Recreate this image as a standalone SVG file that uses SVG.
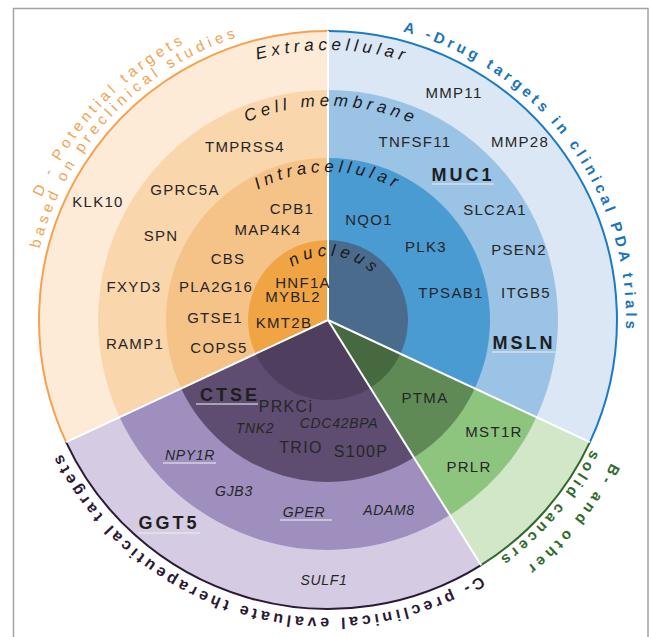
<svg xmlns="http://www.w3.org/2000/svg" xmlns:xlink="http://www.w3.org/1999/xlink" width="650" height="637" viewBox="0 0 650 637">
<style>
text{font-family:"Liberation Sans",Arial,sans-serif}
.g{font-size:15px;fill:#262626;letter-spacing:1.3px;text-anchor:middle}
.g16{font-size:16px}
.gi{font-style:italic;font-size:14px;letter-spacing:0.7px}
.gb{font-weight:bold;font-size:18px;letter-spacing:3px;fill:#1e1e1e}
.ring{font-style:italic;font-size:17px;letter-spacing:4.5px;fill:#1a1a1a}
.ul{stroke:#eeeeee;stroke-opacity:0.7;stroke-width:1.5}
.sep{stroke:#ffffff;stroke-width:2}
.arc{fill:none;stroke-width:2}
.lab{font-size:15px;letter-spacing:4px}
.labb{font-weight:bold;font-size:15px;letter-spacing:3.9px}
</style>
<defs>
<path id="pExt" d="M58,320 A270,270 0 0 1 598,320"/>
<path id="pMem" d="M114,320 A214,214 0 0 1 542,320"/>
<path id="pInt" d="M180,320 A148,148 0 0 1 476,320"/>
<path id="pNuc" d="M264,320 A64,64 0 0 1 392,320"/>
<path id="pD1" d="M112.1,550.7 A316,316 0 0 1 543.9,89.3"/>
<path id="pD2" d="M124.3,536.2 A297,297 0 0 1 531.7,103.8"/>
<path id="pA" d="M150.7,80.4 A298,298 0 0 1 505.3,559.6"/>
<path id="pB1" d="M528.8,74.7 A317,317 0 0 1 127.2,565.3"/>
<path id="pB2" d="M520.9,94.2 A297,297 0 0 1 135.1,545.8"/>
<path id="pC" d="M613.6,405.1 A298,298 0 0 1 42.4,234.9"/>
</defs>
<rect x="13.5" y="8.5" width="634.5" height="700" fill="#ffffff" stroke="#a3a3a3" stroke-width="1.5"/>

<g id="sector-D">
<path d="M328,320 L66.1,442.1 A289,289 0 0 1 328,31 Z" fill="#FDEBD7"/>
<path d="M328,320 L119.6,417.2 A230,230 0 0 1 328,90 Z" fill="#F9D6AC"/>
<path d="M328,320 L181.2,388.5 A162,162 0 0 1 328,158 Z" fill="#F5C388"/>
<path d="M328,320 L255.5,353.8 A80,80 0 0 1 328,240 Z" fill="#F0A443"/>
<path class="arc" d="M66.1,442.1 A289,289 0 0 1 328,31" stroke="#F4A24F"/>
</g>
<g id="sector-A">
<path d="M328,320 L328,31 A289,289 0 0 1 589.9,442.1 Z" fill="#DBE7F5"/>
<path d="M328,320 L328,90 A230,230 0 0 1 536.4,417.2 Z" fill="#9BC3E5"/>
<path d="M328,320 L328,158 A162,162 0 0 1 474.8,388.5 Z" fill="#4A9BD2"/>
<path d="M328,320 L328,240 A80,80 0 0 1 400.5,353.8 Z" fill="#4A6B8C"/>
<path class="arc" d="M328,31 A289,289 0 0 1 589.9,442.1" stroke="#1B7AC4"/>
</g>
<g id="sector-B">
<path d="M328,320 L589.9,442.1 A289,289 0 0 1 481.1,565.1 Z" fill="#D1E7C7"/>
<path d="M328,320 L536.4,417.2 A230,230 0 0 1 449.9,515 Z" fill="#8DC47E"/>
<path d="M328,320 L474.8,388.5 A162,162 0 0 1 413.8,457.4 Z" fill="#5F8A55"/>
<path d="M328,320 L400.5,353.8 A80,80 0 0 1 370.4,387.8 Z" fill="#46693F"/>
<path class="arc" d="M589.9,442.1 A289,289 0 0 1 481.1,565.1" stroke="#2D6A2B"/>
</g>
<g id="sector-C">
<path d="M328,320 L481.1,565.1 A289,289 0 0 1 66.1,442.1 Z" fill="#D5CCE3"/>
<path d="M328,320 L449.9,515 A230,230 0 0 1 119.6,417.2 Z" fill="#9E8FBE"/>
<path d="M328,320 L413.8,457.4 A162,162 0 0 1 181.2,388.5 Z" fill="#5E4D70"/>
<path d="M328,320 L370.4,387.8 A80,80 0 0 1 255.5,353.8 Z" fill="#4F3E5E"/>
<path class="arc" d="M481.1,565.1 A289,289 0 0 1 66.1,442.1" stroke="#2B1A33" stroke-width="2.5"/>
</g>
<g id="separators">
<line class="sep" x1="328" y1="320" x2="66.1" y2="442.1"/>
<line class="sep" x1="328" y1="320" x2="328" y2="31" stroke-width="1.2"/>
<line class="sep" x1="328" y1="320" x2="589.9" y2="442.1"/>
<line class="sep" x1="328" y1="320" x2="481.1" y2="565.1"/>
</g>

<g id="ring-labels">
<text class="ring"><textPath xlink:href="#pExt" href="#pExt" startOffset="50.5%" text-anchor="middle">Extracellular</textPath></text>
<text class="ring"><textPath xlink:href="#pMem" href="#pMem" startOffset="50.5%" text-anchor="middle">Cell membrane</textPath></text>
<text class="ring"><textPath xlink:href="#pInt" href="#pInt" startOffset="50%" text-anchor="middle">Intracellular</textPath></text>
<text class="ring"><textPath xlink:href="#pNuc" href="#pNuc" startOffset="53.5%" text-anchor="middle">nucleus</textPath></text>
</g>

<g id="category-labels">
<text class="lab" fill="#F2A251"><textPath xlink:href="#pD1" href="#pD1" startOffset="50%" text-anchor="middle">D - Potential targets</textPath></text>
<text class="lab" fill="#F2A251" style="letter-spacing:4.3px"><textPath xlink:href="#pD2" href="#pD2" startOffset="50%" text-anchor="middle">based on preclinical studies</textPath></text>
<text class="labb" fill="#1B75BB"><textPath xlink:href="#pA" href="#pA" startOffset="50%" text-anchor="middle">A -Drug targets in clinical PDA trials</textPath></text>
<text class="labb" fill="#2E6B2C" style="letter-spacing:4.2px"><textPath xlink:href="#pB1" href="#pB1" startOffset="50%" text-anchor="middle">B- and other</textPath></text>
<text class="labb" fill="#2E6B2C"><textPath xlink:href="#pB2" href="#pB2" startOffset="50%" text-anchor="middle">solid cancers</textPath></text>
<text class="labb" fill="#2B1833" style="font-size:16px;letter-spacing:3.6px"><textPath xlink:href="#pC" href="#pC" startOffset="50%" text-anchor="middle">C- preclinical evaluate therapeutical targets</textPath></text>
</g>

<g id="targets-D">
<text class="g" x="245" y="152">TMPRSS4</text>
<text class="g" x="98" y="207">KLK10</text>
<text class="g" x="185" y="195">GPRC5A</text>
<text class="g" x="292" y="214">CPB1</text>
<text class="g" x="268" y="235">MAP4K4</text>
<text class="g" x="161" y="241">SPN</text>
<text class="g" x="228" y="264">CBS</text>
<text class="g" x="134" y="292">FXYD3</text>
<text class="g" x="216" y="292">PLA2G16</text>
<text class="g" x="303" y="288">HNF1A</text>
<text class="g" x="293" y="302">MYBL2</text>
<text class="g" x="284" y="328">KMT2B</text>
<text class="g" x="215" y="323">GTSE1</text>
<text class="g" x="219" y="353">COPS5</text>
<text class="g" x="135" y="349">RAMP1</text>
</g>
<g id="targets-A">
<text class="g" x="454" y="98">MMP11</text>
<text class="g" x="415" y="147">TNFSF11</text>
<text class="g" x="520" y="147">MMP28</text>
<text class="g gb" x="463" y="181">MUC1</text>
<line class="ul" x1="432" y1="184" x2="494" y2="184"/>
<text class="g" x="369" y="225">NQO1</text>
<text class="g" x="495" y="215">SLC2A1</text>
<text class="g" x="426" y="252">PLK3</text>
<text class="g" x="519" y="255">PSEN2</text>
<text class="g" x="451" y="298">TPSAB1</text>
<text class="g" x="526" y="298">ITGB5</text>
<text class="g gb" x="524" y="349">MSLN</text>
<line class="ul" x1="492" y1="352" x2="555" y2="352"/>
</g>
<g id="targets-B">
<text class="g" x="425" y="403">PTMA</text>
<text class="g" x="494" y="437">MST1R</text>
<text class="g" x="469" y="472">PRLR</text>
</g>
<g id="targets-C">
<text class="g gb" x="230" y="401">CTSE</text>
<line class="ul" x1="196" y1="404" x2="258" y2="404"/>
<text class="g g16" x="286" y="412">PRKCi</text>
<text class="g gi" x="255" y="433">TNK2</text>
<text class="g gi" x="339" y="428">CDC42BPA</text>
<text class="g g16" x="301" y="453">TRIO</text>
<text class="g g16" x="361" y="457">S100P</text>
<text class="g gi" x="190" y="460">NPY1R</text>
<line class="ul" x1="163" y1="463" x2="216" y2="463"/>
<text class="g gi" x="234" y="496">GJB3</text>
<text class="g gi" x="304" y="517">GPER</text>
<line class="ul" x1="280" y1="520" x2="332" y2="520"/>
<text class="g gi" x="389" y="515">ADAM8</text>
<text class="g gb" x="169" y="529">GGT5</text>
<line class="ul" x1="138" y1="533" x2="200" y2="533"/>
<text class="g gi" x="324" y="585">SULF1</text>
</g>
</svg>
